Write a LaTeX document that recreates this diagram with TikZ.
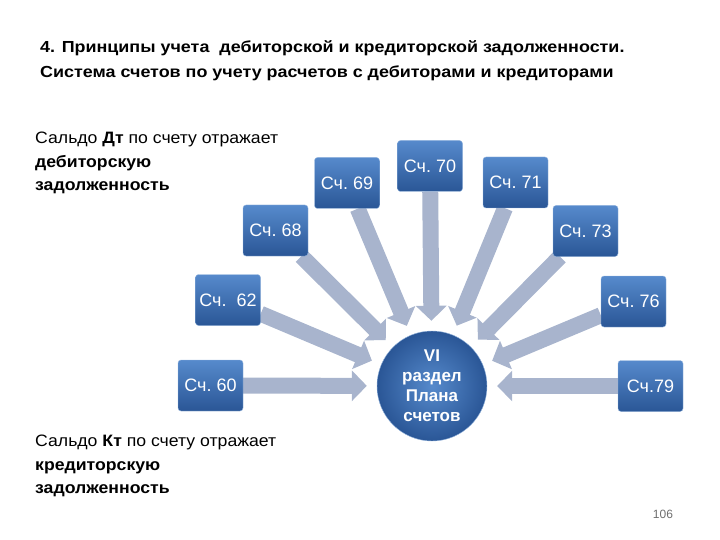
\documentclass[tikz,border=0pt]{standalone}
\usepackage{fontspec}
\setmainfont{Liberation Sans}
\newfontfamily\widesans[FakeStretch=1.12]{Liberation Sans}
\newfontfamily\notesans[FakeStretch=1.07]{Liberation Sans}
\usetikzlibrary{arrows.meta,positioning}
\definecolor{accttop}{RGB}{86,138,204}
\definecolor{acctbottom}{RGB}{42,86,150}
\definecolor{acctedge}{RGB}{150,182,222}
\definecolor{arrowgray}{RGB}{168,180,205}
\definecolor{pagegray}{RGB}{110,110,110}
\pgfdeclarelayer{background}
\pgfsetlayers{background,main}
\tikzset{
  acctbox/.style={
    rectangle,
    rounded corners=3pt,
    draw=acctedge,
    thin,
    top color=accttop,
    bottom color=acctbottom,
    text=white,
    minimum width=65pt,
    minimum height=51pt,
    inner sep=2pt,
    font=\fontsize{18}{20}\selectfont\frenchspacing
  },
  sectioncircle/.style={
    circle,
    draw=acctedge,
    inner color=accttop,
    outer color=acctbottom,
    text=white,
    minimum size=110pt,
    inner sep=0pt,
    align=center,
    font=\bfseries\fontsize{17}{20}\selectfont
  },
  notetext/.style={
    anchor=north west,
    align=left,
    inner sep=0pt,
    font=\notesans\fontsize{16.5}{23.5}\selectfont
  },
  titletext/.style={
    anchor=north west,
    align=left,
    inner sep=0pt,
    font=\widesans\bfseries\fontsize{16}{25}\selectfont
  },
  flowarrow/.style={
    -{Triangle[length=15pt,width=30pt]},
    line width=16pt,
    draw=arrowgray,
    shorten >=10pt
  }
}

\begin{document}
\begin{tikzpicture}[x=1pt,y=-1pt]
\useasboundingbox (0,0) rectangle (720,540);

\node[titletext] (title) at (40,40) {4. Принципы учета \ дебиторской и кредиторской задолженности.\\Система счетов по учету расчетов с дебиторами и кредиторами};

\node[notetext] (debit) at (35,132) {Сальдо \textbf{Дт} по счету отражает\\\textbf{дебиторскую}\\\textbf{задолженность}};
\node[notetext] (credit) at (35,435) {Сальдо \textbf{Кт} по счету отражает\\\textbf{кредиторскую}\\\textbf{задолженность}};

\node[sectioncircle] (plan) at (432,386) {VI\\раздел\\Плана\\счетов};

\node[acctbox] (s60) at (210.5,385.5) {Сч. 60};
\node[acctbox] (s62) at (228,300) {Сч.\ \ 62};
\node[acctbox] (s68) at (275.5,230.5) {Сч. 68};
\node[acctbox] (s69) at (347,183) {Сч. 69};
\node[acctbox] (s70) at (430,166) {Сч. 70};
\node[acctbox] (s71) at (515.5,182.5) {Сч. 71};
\node[acctbox] (s73) at (585.5,231) {Сч. 73};
\node[acctbox] (s76) at (633.5,301.5) {Сч. 76};
\node[acctbox] (s79) at (650.5,386) {Сч.79};

\node[text=pagegray, font=\fontsize{12}{14}\selectfont] (page) at (663,514) {106};

\begin{pgfonlayer}{background}
\foreach \acct in {s60,s62,s68,s69,s70,s71,s73,s76,s79}
  \draw[flowarrow] (\acct) -- (plan);
\end{pgfonlayer}
\end{tikzpicture}
\end{document}
